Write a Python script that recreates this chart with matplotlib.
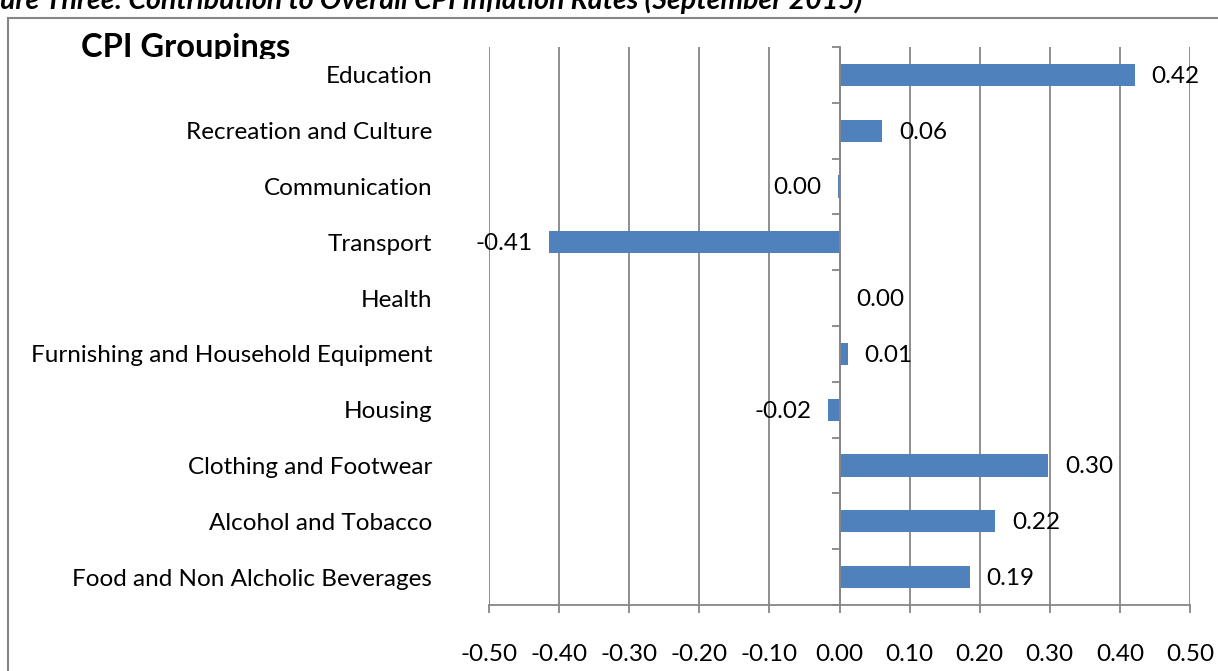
import matplotlib
matplotlib.use('Agg')
import matplotlib.pyplot as plt
from matplotlib.patches import Rectangle
from matplotlib.transforms import Bbox
import numpy as np

# CPI groups, bottom to top as drawn
groups = ['Food and Non Alcholic Beverages', 'Alcohol and Tobacco', 'Clothing and Footwear',
          'Housing', 'Furnishing and Household Equipment', 'Health', 'Transport',
          'Communication', 'Recreation and Culture', 'Education']
contrib = [0.186, 0.222, 0.298, -0.016, 0.012, 0.0005, -0.414, -0.002, 0.061, 0.421]
xticks = [-0.5, -0.4, -0.3, -0.2, -0.1, 0.0, 0.1, 0.2, 0.3, 0.4, 0.5]

W, H = 1218, 671
plt.rcParams['font.family'] = ['Lato', 'DejaVu Sans']
fig = plt.figure(figsize=(W / 100, H / 100), dpi=100)
ax = fig.add_axes([489 / W, 1 - 605 / H, (1190 - 489) / W, (605 - 47) / H])

grey = '#868686'
fs = 17.5
y = np.arange(len(groups))
ax.barh(y, contrib, height=0.4, color='#4F81BD', zorder=3)
ax.set_xlim(-0.5, 0.5)
ax.set_ylim(-0.5, len(groups) - 0.5)

ax.set_xticks(xticks, ['%.2f' % t for t in xticks], fontsize=fs)
ax.tick_params(axis='x', direction='out', length=6, width=1.3, color=grey, pad=22)
ax.grid(axis='x', color=grey, linewidth=1.3, zorder=0)
ax.set_yticks(y, groups, fontsize=fs)
ax.tick_params(axis='y', length=0, pad=41)
for s in ['top', 'right', 'left']:
    ax.spines[s].set_visible(False)
ax.spines['bottom'].set_color(grey)
ax.spines['bottom'].set_linewidth(1.3)

# vertical axis line at zero with category boundary ticks
sec = ax.secondary_yaxis(0.5)
sec.set_alignment('left')
sec.set_yticks(np.arange(len(groups) + 1) - 0.5)
sec.set_yticklabels([])
sec.tick_params(direction='out', length=6, width=1.3, color=grey)
sec.spines['left'].set_color(grey)
sec.spines['left'].set_linewidth(1.3)
sec.set_zorder(4)

for yi, v in zip(y, contrib):
    lab = '%.2f' % v
    if lab == '-0.00':
        lab = '0.00'
    if v >= 0:
        ax.annotate(lab, (v, yi), xytext=(12, -1), textcoords='offset points',
                    ha='left', va='center', fontsize=fs, zorder=5)
    else:
        ax.annotate(lab, (v, yi), xytext=(-12, -1), textcoords='offset points',
                    ha='right', va='center', fontsize=fs, zorder=5)

# outer chart frame
fig.patches.append(Rectangle((8 / W, -0.01), 1.02, 1 - 18 / H + 0.01, transform=fig.transFigure,
                             fill=False, edgecolor=grey, linewidth=1.5))

fig.text(0, 1 - 9 / H, 'ure Three: Contribution to Overall CPI Inflation Rates (September 2015)',
         fontsize=20.5, fontweight='bold', fontstyle='italic', ha='left', va='baseline')
t = fig.text(81 / W, 1 - 57 / H, 'CPI Groupings', fontsize=23.5, fontweight='bold',
             ha='left', va='baseline')
t.set_clip_box(Bbox([[0, H - 59], [W, H]]))
t.set_clip_on(True)

fig.savefig('out.png', dpi=100)
